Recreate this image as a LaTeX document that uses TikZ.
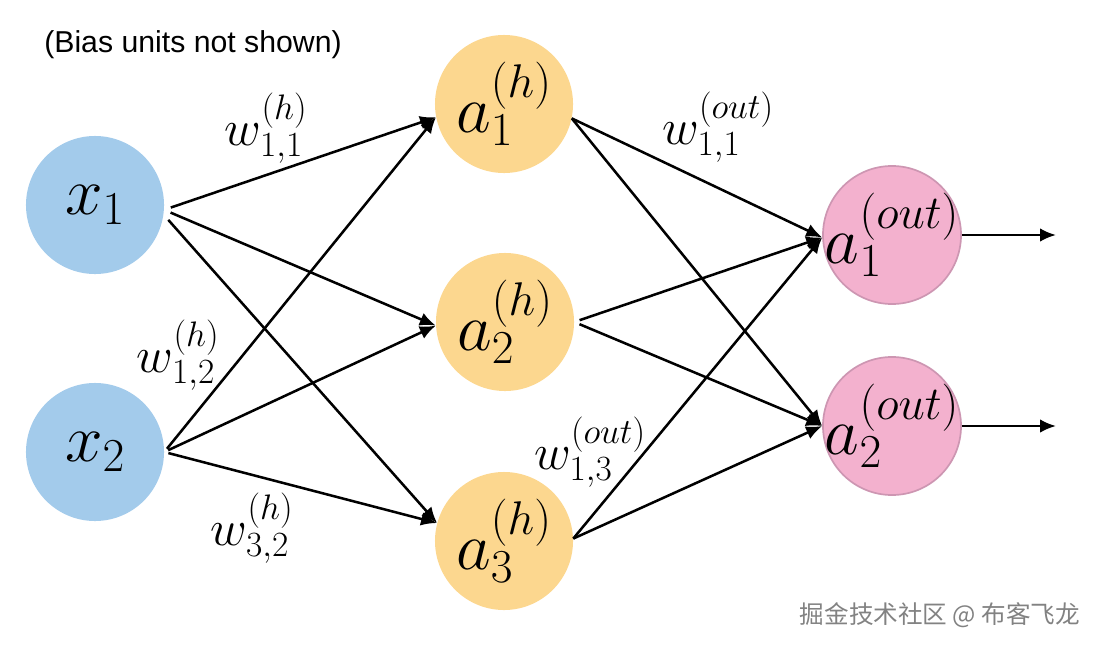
\RequirePackage{fix-cm}
\documentclass[tikz,border=0pt]{standalone}
\usepackage{fontspec}
\usepackage{amsmath}
\usepackage{xcolor}
\usepackage{tikz}
\usetikzlibrary{arrows.meta}
\newfontfamily\notefont{Liberation Sans}
\newfontfamily\cjkfont{Noto Sans CJK SC}
\definecolor{inclr}{RGB}{163,203,235}
\definecolor{hidclr}{RGB}{252,215,143}
\definecolor{outclr}{RGB}{243,177,206}
\definecolor{outrim}{RGB}{205,150,178}
\definecolor{markclr}{RGB}{130,130,130}
\tikzset{
  unit/.style={circle,minimum size=3.45cm,inner sep=0pt,
               font=\fontsize{48}{50}\selectfont},
  inunit/.style={unit,fill=inclr},
  hidunit/.style={unit,fill=hidclr},
  outunit/.style={unit,fill=outclr,draw=outrim,line width=1.2pt,
                  inner sep=-16pt},
  wlab/.style={font=\fontsize{36}{38}\selectfont,inner sep=0pt},
  edge/.style={-{Latex[length=4mm,width=3.4mm]},line width=1.8pt},
}

\begin{document}
\begin{tikzpicture}[x=0.025cm, y=-0.025cm]
\useasboundingbox (0,0) rectangle (1103,650);

% ── note
\node[font=\notefont\fontsize{21.5}{24}\selectfont] (note) at (193,45) {(Bias units not shown)};

% ── units
\node[inunit] (x1) at (95,205) {$x_1$};
\node[inunit] (x2) at (95,452) {$x_2$};
\node[hidunit] (h1) at (504,104) {$a^{(h)}_1$};
\node[hidunit] (h2) at (505,322) {$a^{(h)}_2$};
\node[hidunit] (h3) at (504,541) {$a^{(h)}_3$};
\node[outunit] (o1) at (892,235) {$a^{(out)}_1$};
\node[outunit] (o2) at (892,426) {$a^{(out)}_2$};
\coordinate (y1) at (1056,235);
\coordinate (y2) at (1056,426);

% ── input -> hidden
\draw[edge,shorten <=5pt] (x1.-4) -- (h1.191);
\draw[edge,shorten <=5pt] (x1.-4) -- (h2.183);
\draw[edge,shorten <=5pt] (x1.-8) -- (h3.165);
\draw[edge,shorten <=3pt] (x2.east) -- (h1.191);
\draw[edge,shorten <=3pt] (x2.east) -- (h2.183);
\draw[edge,shorten <=3pt] (x2.east) -- (h3.165);

% ── hidden -> output
\draw[edge] (h1.-12) -- (o1.182);
\draw[edge] (h1.-12) -- (o2.180);
\draw[edge,shorten <=4pt] (h2.east) -- (o1.182);
\draw[edge,shorten <=4pt] (h2.east) -- (o2.180);
\draw[edge] (h3.2) -- (o1.182);
\draw[edge] (h3.2) -- (o2.180);

% ── outputs
\draw[edge] (o1.east) -- (y1);
\draw[edge] (o2.east) -- (y2);

% ── weights
\node[wlab] (w11h) at (266,128) {$w^{(h)}_{1,1}$};
\node[wlab] (w12h) at (178,355) {$w^{(h)}_{1,2}$};
\node[wlab] (w32h) at (252,528) {$w^{(h)}_{3,2}$};
\node[wlab] (w11o) at (718,127) {$w^{(out)}_{1,1}$};
\node[wlab] (w13o) at (590,452) {$w^{(out)}_{1,3}$};

% ── watermark
\node[font=\cjkfont\fontsize{17.5}{20}\selectfont,text=markclr] (mark) at (940,615) {掘金技术社区 @ 布客飞龙};

\end{tikzpicture}
\end{document}
